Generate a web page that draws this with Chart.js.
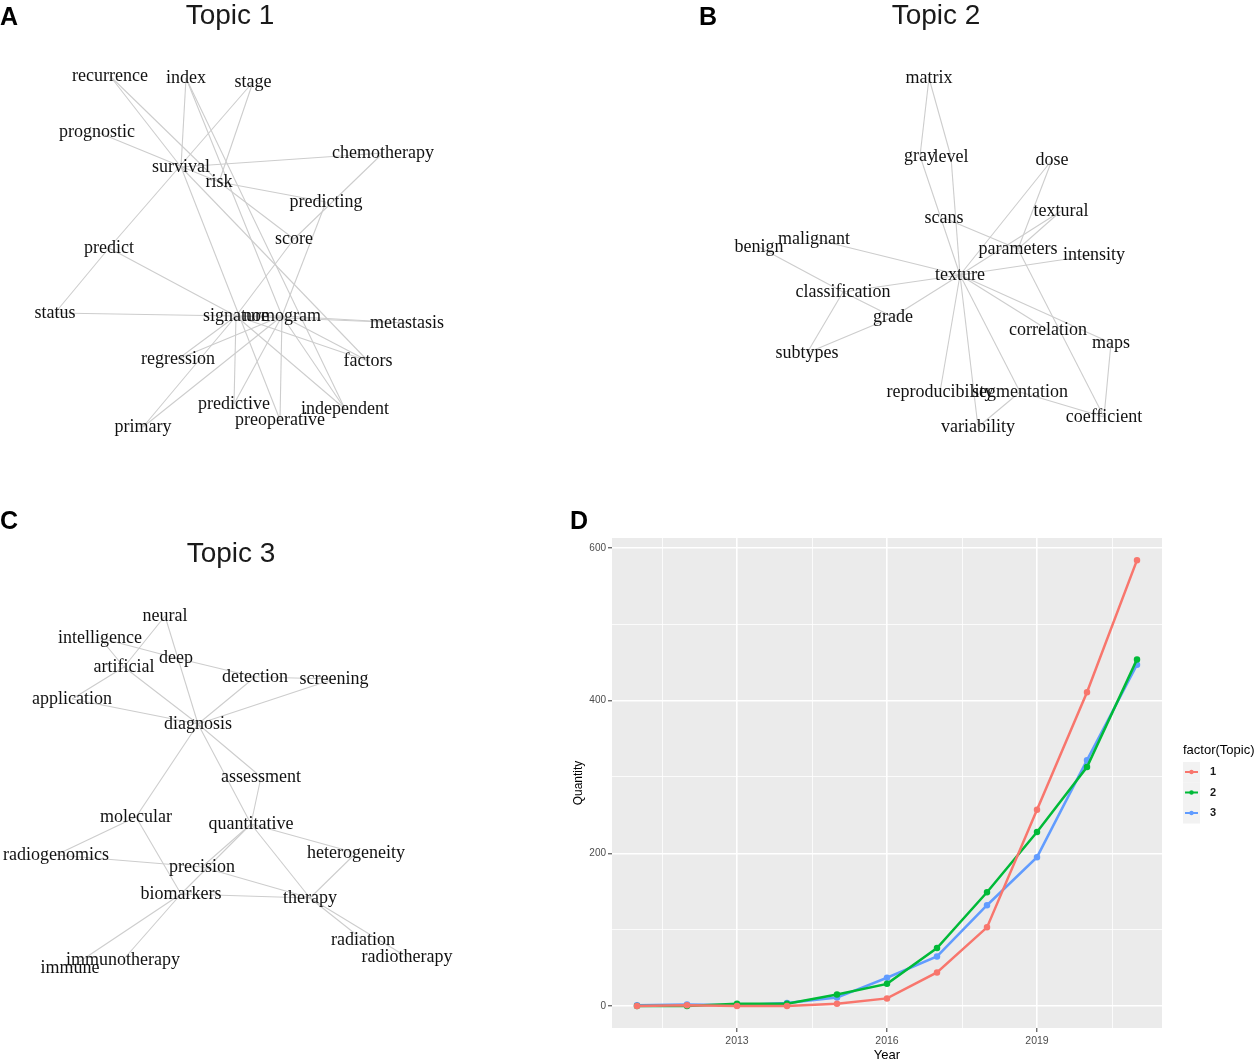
<!DOCTYPE html>
<html>
<head>
<meta charset="utf-8">
<script src="https://cdn.jsdelivr.net/npm/chart.js@4"></script>
<style>
  body { margin: 0; background: #fff; }
  #page { position: relative; width: 1259px; height: 1061px; overflow: hidden; }
  canvas { position: absolute; }
  .tag { position: absolute; font: bold 25px "Liberation Sans", Arial, sans-serif; color: #000; }
</style>
</head>
<body>
<div id="page">
  <canvas id="netA" width="460" height="450" style="left:0;top:0"></canvas>
  <canvas id="netB" width="472" height="450" style="left:700px;top:0"></canvas>
  <canvas id="netC" width="462" height="500" style="left:0;top:500px"></canvas>
  <canvas id="trend" width="699" height="531" style="left:560px;top:530px"></canvas>
  <div class="tag" style="left:0;top:2px">A</div>
  <div class="tag" style="left:699px;top:2px">B</div>
  <div class="tag" style="left:0;top:506px">C</div>
  <div class="tag" style="left:570px;top:506px">D</div>
</div>
<script>
// ---- Topic 1 network (layout coordinates) ----
const topic1Words = ['recurrence', 'index', 'stage', 'prognostic', 'chemotherapy', 'survival', 'risk', 'predicting',
    'score', 'predict', 'status', 'signature', 'nomogram', 'metastasis', 'regression', 'factors', 'predictive',
    'independent', 'primary', 'preoperative'];
const topic1X = [110, 186, 253, 97, 383, 181, 219, 326, 294, 109, 55, 236, 282, 407, 178, 368, 234, 345, 143, 280];
const topic1Y = [76, 78, 82, 132, 153, 167, 182, 202, 239, 248, 313, 316, 316, 323, 359, 361, 404, 409, 427, 420];
const topic1Links = [
    ['recurrence', 'survival'], ['recurrence', 'risk'], ['index', 'survival'], ['index', 'nomogram'],
    ['index', 'independent'], ['stage', 'predict'], ['stage', 'risk'], ['prognostic', 'risk'],
    ['survival', 'chemotherapy'], ['survival', 'preoperative'], ['survival', 'factors'], ['risk', 'predicting'],
    ['risk', 'score'], ['chemotherapy', 'score'], ['predicting', 'nomogram'], ['score', 'signature'],
    ['predict', 'status'], ['predict', 'signature'], ['status', 'signature'], ['signature', 'nomogram'],
    ['nomogram', 'metastasis'], ['signature', 'metastasis'], ['signature', 'factors'], ['nomogram', 'factors'],
    ['signature', 'regression'], ['nomogram', 'regression'], ['nomogram', 'primary'], ['signature', 'primary'],
    ['signature', 'predictive'], ['nomogram', 'predictive'], ['nomogram', 'preoperative'],
    ['signature', 'independent'], ['nomogram', 'independent']
];

// ---- Topic 2 network ----
const topic2Words = ['matrix', 'gray', 'level', 'dose', 'scans', 'textural', 'benign', 'malignant', 'parameters',
    'intensity', 'texture', 'classification', 'grade', 'correlation', 'maps', 'subtypes', 'reproducibility',
    'segmentation', 'coefficient', 'variability'];
const topic2X = [229, 220, 251, 352, 244, 361, 59, 114, 318, 394, 260, 143, 193, 348, 411, 107, 240, 320, 404, 278];
const topic2Y = [78, 156, 157, 160, 218, 211, 247, 239, 249, 255, 275, 292, 317, 330, 343, 353, 392, 392, 417, 427];
const topic2Links = [
    ['matrix', 'gray'], ['matrix', 'level'], ['gray', 'texture'], ['level', 'texture'], ['scans', 'parameters'],
    ['dose', 'texture'], ['dose', 'parameters'], ['textural', 'texture'], ['textural', 'parameters'],
    ['intensity', 'texture'], ['parameters', 'coefficient'], ['benign', 'classification'], ['malignant', 'texture'],
    ['classification', 'texture'], ['classification', 'grade'], ['classification', 'subtypes'], ['grade', 'texture'],
    ['grade', 'subtypes'], ['texture', 'correlation'], ['texture', 'maps'], ['texture', 'reproducibility'],
    ['texture', 'variability'], ['texture', 'segmentation'], ['maps', 'coefficient'],
    ['segmentation', 'coefficient'], ['segmentation', 'variability']
];

// ---- Topic 3 network ----
const topic3Words = ['neural', 'intelligence', 'deep', 'artificial', 'detection', 'screening', 'application',
    'diagnosis', 'assessment', 'molecular', 'quantitative', 'radiogenomics', 'heterogeneity', 'precision',
    'biomarkers', 'therapy', 'radiation', 'radiotherapy', 'immunotherapy', 'immune'];
const topic3X = [165, 100, 176, 124, 255, 334, 72, 198, 261, 136, 251, 56, 356, 202, 181, 310, 363, 407, 123, 70];
const topic3Y = [116, 138, 158, 167, 177, 179, 199, 224, 277, 317, 324, 355, 353, 367, 394, 398, 440, 457, 460, 468];
const topic3Links = [
    ['neural', 'artificial'], ['neural', 'diagnosis'], ['intelligence', 'artificial'], ['intelligence', 'deep'],
    ['deep', 'detection'], ['artificial', 'application'], ['artificial', 'diagnosis'], ['application', 'diagnosis'],
    ['detection', 'diagnosis'], ['detection', 'screening'], ['screening', 'diagnosis'], ['diagnosis', 'assessment'],
    ['diagnosis', 'quantitative'], ['diagnosis', 'molecular'], ['assessment', 'quantitative'],
    ['molecular', 'radiogenomics'], ['molecular', 'biomarkers'], ['radiogenomics', 'precision'],
    ['quantitative', 'precision'], ['quantitative', 'biomarkers'], ['quantitative', 'heterogeneity'],
    ['quantitative', 'therapy'], ['precision', 'therapy'], ['biomarkers', 'therapy'], ['heterogeneity', 'therapy'],
    ['therapy', 'radiation'], ['therapy', 'radiotherapy'], ['biomarkers', 'immune'], ['biomarkers', 'immunotherapy']
];

// ---- Topic quantity per year (panel D) ----
const years = [2011, 2012, 2013, 2014, 2015, 2016, 2017, 2018, 2019, 2020, 2021];
const topicNames = ['1', '2', '3'];
const topic1Count = [0, 1, 0, 0, 3, 10, 44, 103, 257, 411, 584];
const topic2Count = [0, 0, 3, 3, 15, 29, 76, 149, 228, 313, 454];
const topic3Count = [1, 2, 1, 4, 11, 37, 65, 132, 195, 322, 447];
const yearMajor = [2013, 2016, 2019];
const yearMinor = [2011.5, 2014.5, 2017.5, 2020.5];
const qtyMajor = [0, 200, 400, 600];
const qtyMinor = [100, 300, 500];
const topicColors = ['#F8766D', '#00BA38', '#619CFF'];

// draws the words and the panel title on a network chart
const wordLabels = {
    id: 'wordLabels',
    afterDatasetsDraw(chart, args, opts) {
        const { ctx, scales } = chart;
        ctx.save();
        ctx.fillStyle = '#111111';
        ctx.font = '18px "Liberation Serif", "Times New Roman", serif';
        ctx.textAlign = 'center';
        ctx.textBaseline = 'middle';
        opts.words.forEach((w, i) => {
            ctx.fillText(w, scales.x.getPixelForValue(opts.xs[i]), scales.y.getPixelForValue(opts.ys[i]));
        });
        ctx.fillStyle = '#1a1a1a';
        ctx.font = '28px "Liberation Sans", Arial, sans-serif';
        ctx.textBaseline = 'alphabetic';
        ctx.fillText(opts.title, chart.width / 2, opts.titleY);
        ctx.restore();
    }
};

function networkChart(id, title, titleY, words, xs, ys, links) {
    const canvas = document.getElementById(id);
    const pos = w => ({ x: xs[words.indexOf(w)], y: ys[words.indexOf(w)] });
    const datasets = links.map(l => ({
        data: [pos(l[0]), pos(l[1])],
        showLine: true,
        borderColor: '#cdcdcd',
        borderWidth: 1.1,
        pointRadius: 0
    }));
    return new Chart(canvas, {
        type: 'scatter',
        data: { datasets: datasets },
        options: {
            responsive: false,
            animation: false,
            layout: { padding: 0 },
            scales: {
                x: { type: 'linear', display: false, min: 0, max: canvas.width },
                y: { type: 'linear', display: false, min: 0, max: canvas.height, reverse: true }
            },
            plugins: {
                legend: { display: false },
                tooltip: { enabled: false },
                wordLabels: { words: words, xs: xs, ys: ys, title: title, titleY: titleY }
            }
        },
        plugins: [wordLabels]
    });
}

networkChart('netA', 'Topic 1', 24, topic1Words, topic1X, topic1Y, topic1Links);
networkChart('netB', 'Topic 2', 24, topic2Words, topic2X, topic2Y, topic2Links);
networkChart('netC', 'Topic 3', 62, topic3Words, topic3X, topic3Y, topic3Links);

// grey panel behind the plot
const panelBg = {
    id: 'panelBg',
    beforeDraw(chart) {
        const { ctx, chartArea: a } = chart;
        ctx.save();
        ctx.fillStyle = '#EBEBEB';
        ctx.fillRect(a.left, a.top, a.right - a.left, a.bottom - a.top);
        ctx.restore();
    }
};

// ggplot style legend on the right
const sideLegend = {
    id: 'sideLegend',
    afterDraw(chart) {
        const { ctx } = chart;
        const x0 = chart.chartArea.right + 21;
        ctx.save();
        ctx.font = '13px "Liberation Sans", Arial, sans-serif';
        ctx.fillStyle = '#000';
        ctx.textBaseline = 'middle';
        ctx.fillText('factor(Topic)', x0, 220);
        chart.data.datasets.forEach((ds, i) => {
            const cy = 242 + i * 20.5;
            ctx.fillStyle = '#F2F2F2';
            ctx.fillRect(x0, cy - 10, 17, 20.5);
            ctx.strokeStyle = ds.borderColor;
            ctx.lineWidth = 2;
            ctx.beginPath();
            ctx.moveTo(x0 + 2, cy);
            ctx.lineTo(x0 + 15, cy);
            ctx.stroke();
            ctx.fillStyle = ds.borderColor;
            ctx.beginPath();
            ctx.arc(x0 + 8.5, cy, 2.2, 0, Math.PI * 2);
            ctx.fill();
            ctx.fillStyle = '#1a1a1a';
            ctx.font = 'bold 11px "Liberation Sans", Arial, sans-serif';
            ctx.fillText(ds.label, x0 + 27, cy);
        });
        ctx.restore();
    }
};

const counts = [topic1Count, topic2Count, topic3Count];

new Chart(document.getElementById('trend'), {
    type: 'line',
    data: {
        datasets: counts.map((c, i) => ({
            label: topicNames[i],
            data: years.map((y, j) => ({ x: y, y: c[j] })),
            borderColor: topicColors[i],
            backgroundColor: topicColors[i],
            borderWidth: 2.5,
            pointRadius: 2,
            pointHoverRadius: 2,
            tension: 0
        }))
    },
    options: {
        responsive: false,
        animation: false,
        layout: { padding: { top: 7, right: 97, left: 0, bottom: 0 } },
        scales: {
            x: {
                type: 'linear',
                min: 2010.5,
                max: 2021.5,
                afterBuildTicks: s => { s.ticks = yearMinor.concat(yearMajor).sort((a, b) => a - b).map(v => ({ value: v })); },
                afterFit: s => { s.height = 33; },
                border: { display: false },
                grid: {
                    color: '#FFFFFF',
                    lineWidth: c => (c.tick && yearMajor.includes(c.tick.value)) ? 1.6 : 0.8,
                    tickColor: c => (c.tick && yearMajor.includes(c.tick.value)) ? '#333333' : 'rgba(0,0,0,0)',
                    tickLength: 4,
                    tickWidth: 1
                },
                ticks: {
                    autoSkip: false,
                    maxRotation: 0,
                    padding: 3,
                    color: '#4D4D4D',
                    font: { family: 'Liberation Sans', size: 10.5 },
                    callback: v => yearMajor.includes(v) ? String(v) : ''
                },
                title: { display: true, text: 'Year', color: '#000', padding: { top: 0, bottom: -2 },
                    font: { family: 'Liberation Sans', size: 13 } }
            },
            y: {
                min: -28.8,
                max: 613,
                afterBuildTicks: s => { s.ticks = qtyMajor.concat(qtyMinor).sort((a, b) => a - b).map(v => ({ value: v })); },
                afterFit: s => { s.width = 52; },
                border: { display: false },
                grid: {
                    color: '#FFFFFF',
                    lineWidth: c => (c.tick && qtyMajor.includes(c.tick.value)) ? 1.6 : 0.8,
                    tickColor: c => (c.tick && qtyMajor.includes(c.tick.value)) ? '#333333' : 'rgba(0,0,0,0)',
                    tickLength: 4,
                    tickWidth: 1
                },
                ticks: {
                    autoSkip: false,
                    padding: 2,
                    color: '#4D4D4D',
                    font: { family: 'Liberation Sans', size: 10 },
                    callback: v => qtyMajor.includes(v) ? String(v) : ''
                },
                title: { display: true, text: 'Quantity', color: '#000', padding: { top: 11, bottom: 0 },
                    font: { family: 'Liberation Sans', size: 12 } }
            }
        },
        plugins: {
            legend: { display: false },
            tooltip: { enabled: false }
        }
    },
    plugins: [panelBg, sideLegend]
});
</script>
</body>
</html>
